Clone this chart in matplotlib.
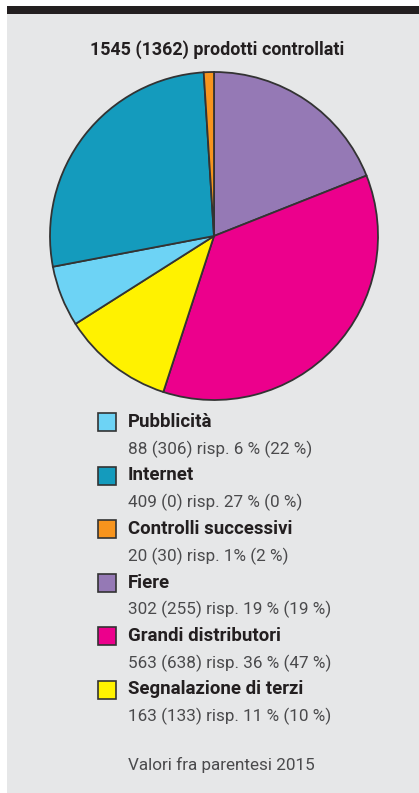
import matplotlib
matplotlib.use("Agg")
import matplotlib.pyplot as plt
from matplotlib.patches import Rectangle

W, H = 419, 793
DPI = 100

title = "1545 (1362) prodotti controllati"
# pie order (clockwise from top); slices drawn from rounded percentages
pie_labels = ["Fiere", "Grandi distributori", "Segnalazione di terzi",
              "Pubblicità", "Internet", "Controlli successivi"]
pie_counts = [302, 563, 163, 88, 409, 20]
pie_percent = [19, 36, 11, 6, 27, 1]
pie_colors = ["#9579b5", "#ec008c", "#fff200", "#6dd3f5", "#149bbd", "#f7941d"]

# legend order
legend_labels = ["Pubblicità", "Internet", "Controlli successivi", "Fiere",
                 "Grandi distributori", "Segnalazione di terzi"]
legend_values = ["88 (306) risp. 6 % (22 %)", "409 (0) risp. 27 % (0 %)",
                 "20 (30) risp. 1% (2 %)", "302 (255) risp. 19 % (19 %)",
                 "563 (638) risp. 36 % (47 %)", "163 (133) risp. 11 % (10 %)"]
footnote = "Valori fra parentesi 2015"

plt.rcParams['font.family'] = ['Roboto', 'DejaVu Sans']

fig = plt.figure(figsize=(W / DPI, H / DPI), dpi=DPI)
fig.patch.set_facecolor("white")

def fx(px):
    return px / W

def fy(py):
    return 1 - py / H

# background panel and top bar
fig.patches.append(Rectangle((fx(7), 0), 1 - fx(7), fy(14), transform=fig.transFigure,
                             facecolor="#e6e7e8", edgecolor="none", zorder=-5))
fig.patches.append(Rectangle((fx(7), fy(14)), 1 - fx(7), (14 - 6) / H, transform=fig.transFigure,
                             facecolor="#231f20", edgecolor="none", zorder=-5))

fig.text(fx(217), fy(50), title, ha="center", va="center", fontsize=12.9,
         fontweight="bold", color="#231f20")

# pie
cx, cy, r = 214, 236, 164
ax = fig.add_axes([fx(cx - r), fy(cy + r), 2 * r / W, 2 * r / H])
ax.pie(pie_percent, colors=pie_colors, startangle=90, counterclock=False,
       wedgeprops=dict(edgecolor="#333333", linewidth=1.3))
ax.set_xlim(-1, 1)
ax.set_ylim(-1, 1)
ax.set_aspect("auto")
ax.axis("off")

leg_color = {l: c for l, c in zip(pie_labels, pie_colors)}
y0 = 422
step = 53.5
for i, (lab, val) in enumerate(zip(legend_labels, legend_values)):
    y = y0 + i * step
    fig.patches.append(Rectangle((fx(98), fy(y + 9)), 18 / W, 18 / H, transform=fig.transFigure,
                                 facecolor=leg_color[lab], edgecolor="#333333", linewidth=1.2,
                                 zorder=2))
    fig.text(fx(128), fy(y), lab, ha="left", va="center", fontsize=13.4,
             fontweight="bold", color="#231f20")
    fig.text(fx(128), fy(y + 27), val, ha="left", va="center", fontsize=12.3,
             fontweight="normal", color="#4a4a4c")

fig.text(fx(128), fy(765), footnote, ha="left", va="center", fontsize=12.3,
         fontweight="normal", color="#4a4a4c")

fig.savefig("out.png", dpi=DPI)
